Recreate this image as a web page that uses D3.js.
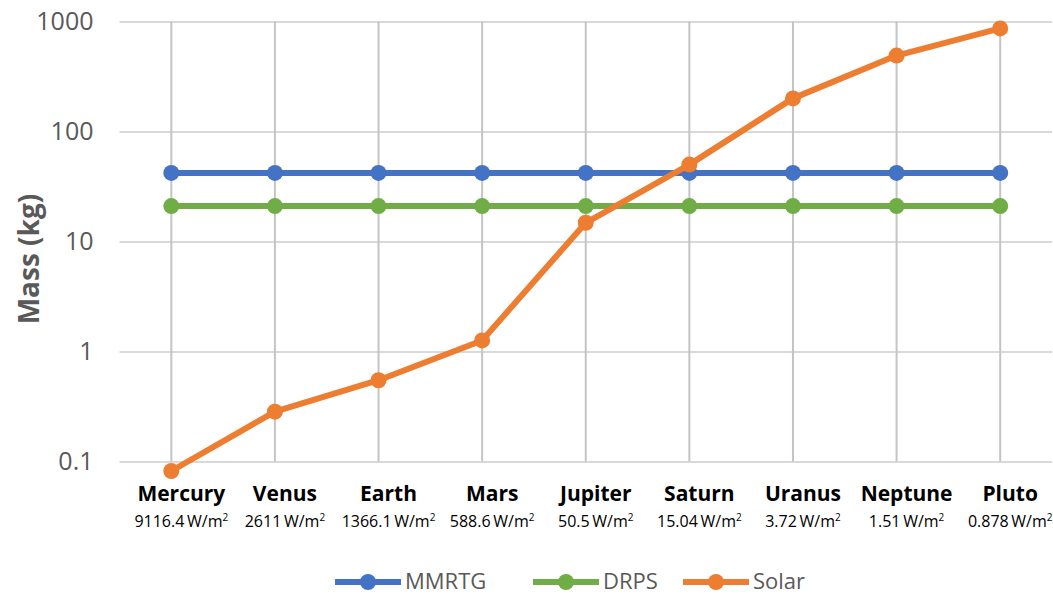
<!DOCTYPE html>
<html><head><meta charset="utf-8">
<script src="https://cdn.jsdelivr.net/npm/d3@7"></script>
<style>html,body{margin:0;padding:0;background:#fff;}svg{display:block;}</style>
</head><body>
<svg id="chart" width="1053" height="596"></svg>
<script>
const planets = ["Mercury","Venus","Earth","Mars","Jupiter","Saturn","Uranus","Neptune","Pluto"];
const irradiance = ["9116.4","2611","1366.1","588.6","50.5","15.04","3.72","1.51","0.878"];
const mmrtg = [42,42,42,42,42,42,42,42,42];
const drps = [21,21,21,21,21,21,21,21,21];
const solar = [0.082,0.284,0.548,1.26,14.8,50,200,490,865];
const yTicks = [0.1,1,10,100,1000];
const seriesNames = ["MMRTG","DRPS","Solar"];
const seriesColors = ["#4472C4","#70AD47","#ED7D31"];

const svg = d3.select("#chart");
const x = d3.scalePoint().domain(planets).range([119.5,1052]).padding(0.5);
const y = d3.scaleLog().domain([0.1,1000]).range([461.5,21.5]);
const font = "'Open Sans', 'Liberation Sans', sans-serif";

// horizontal gridlines
const yAxis = d3.axisLeft(y).tickValues(yTicks).tickFormat(d => String(d)).tickSize(-(1052-119.5)).tickPadding(26);
const gy = svg.append("g").attr("transform","translate(119.5,0)").call(yAxis);
gy.select(".domain").remove();
gy.selectAll(".tick line").attr("stroke","#d9d9d9").attr("stroke-width",2);
gy.selectAll(".tick text").attr("fill","#595959").style("font-family",font).style("font-size","25px");

// vertical gridlines
svg.append("g").selectAll("line").data(planets).join("line")
  .attr("x1",d=>x(d)).attr("x2",d=>x(d)).attr("y1",y(1000)).attr("y2",y(0.1))
  .attr("stroke","#c4c4c4").attr("stroke-width",2);

// x labels
const xl = svg.append("g");
xl.selectAll("text.name").data(planets).join("text").attr("class","name")
  .attr("x",d=>x(d)+10).attr("y",501).attr("text-anchor","middle")
  .style("font-family",font).style("font-size","21px").style("font-weight","bold").attr("fill","#000")
  .text(d=>d);
const sub = xl.selectAll("text.sub").data(planets).join("text").attr("class","sub")
  .attr("x",d=>x(d)+10).attr("y",527).attr("text-anchor","middle")
  .style("font-family",font).style("font-size","16px").attr("fill","#000");
sub.append("tspan").text((d,i)=>irradiance[i]+"\u2009W/m");
sub.append("tspan").attr("dy",-6).style("font-size","10px").text("2");

// y axis title
svg.append("text").attr("transform","translate(39,259) rotate(-90)").attr("text-anchor","middle")
  .style("font-family",font).style("font-size","28px").style("font-weight","bold").attr("fill","#595959")
  .text("Mass (kg)");

// series
const allSeries = [mmrtg, drps, solar];
const line = d3.line().x((d,i)=>x(planets[i])).y(d=>y(d));
allSeries.forEach((s,k)=>{
  svg.append("path").datum(s).attr("d",line).attr("fill","none")
    .attr("stroke",seriesColors[k]).attr("stroke-width",6).attr("stroke-linejoin","round");
  svg.append("g").selectAll("circle").data(s).join("circle")
    .attr("cx",(d,i)=>x(planets[i])).attr("cy",d=>y(d)).attr("r",8).attr("fill",seriesColors[k]);
});

// legend
const legendX = [335,533,683];
const lg = svg.append("g");
seriesNames.forEach((n,k)=>{
  const g = lg.append("g").attr("transform",`translate(${legendX[k]},582)`);
  g.append("line").attr("x1",0).attr("x2",66).attr("stroke",seriesColors[k]).attr("stroke-width",6);
  g.append("circle").attr("cx",33).attr("r",8).attr("fill",seriesColors[k]);
  g.append("text").attr("x",70).attr("y",7).style("font-family",font).style("font-size","22px")
    .attr("fill","#595959").text(n);
});
</script>
</body></html>
